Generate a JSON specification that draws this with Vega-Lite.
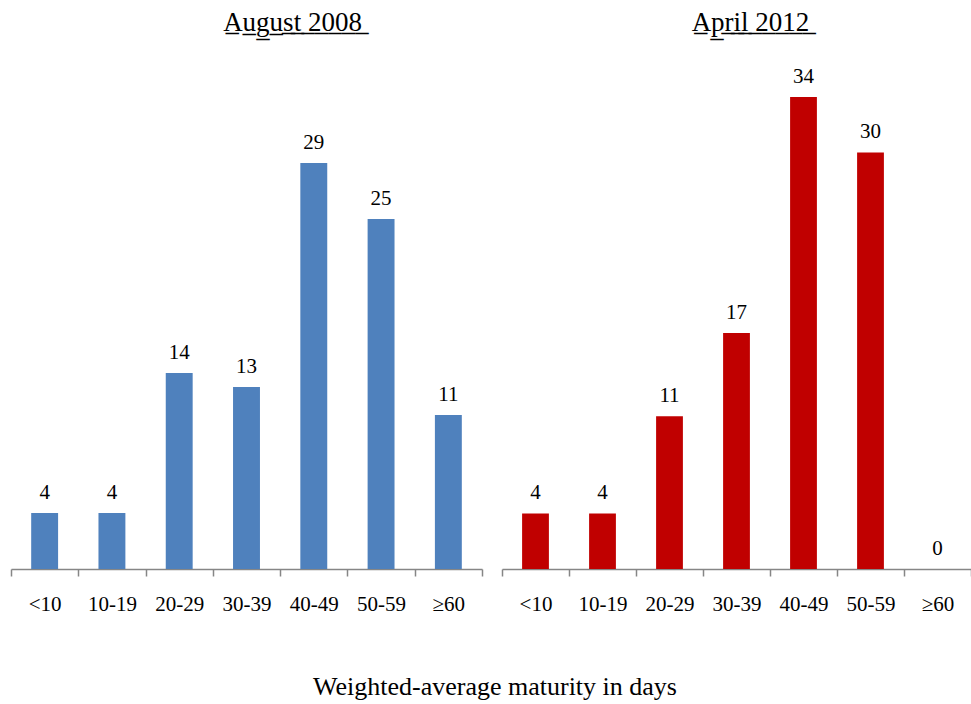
{
  "$schema": "https://vega.github.io/schema/vega-lite/v6.json",
  "background": "white",
  "padding": {"left": 10, "top": 9, "right": 0, "bottom": 0},
  "config": {
    "view": {"stroke": null},
    "font": "Liberation Serif",
    "axis": {"labelFont": "Liberation Serif", "titleFont": "Liberation Serif"},
    "title": {"font": "Liberation Serif", "subtitleFont": "Liberation Serif"},
    "text": {"font": "Liberation Serif"},
    "concat": {"spacing": 18}
  },
  "title": {
    "text": "Weighted-average maturity in days",
    "orient": "bottom",
    "anchor": "middle",
    "font": "Liberation Serif",
    "fontSize": 26,
    "fontWeight": "normal",
    "color": "black",
    "offset": 60,
    "dx": 4
  },
  "datasets": {
    "aug2008": [
      {"bucket": "<10", "share": 4},
      {"bucket": "10-19", "share": 4},
      {"bucket": "20-29", "share": 14},
      {"bucket": "30-39", "share": 13},
      {"bucket": "40-49", "share": 29},
      {"bucket": "50-59", "share": 25},
      {"bucket": "≥60", "share": 11}
    ],
    "apr2012": [
      {"bucket": "<10", "share": 4},
      {"bucket": "10-19", "share": 4},
      {"bucket": "20-29", "share": 11},
      {"bucket": "30-39", "share": 17},
      {"bucket": "40-49", "share": 34},
      {"bucket": "50-59", "share": 30},
      {"bucket": "≥60", "share": 0}
    ]
  },
  "hconcat": [
    {
      "width": 471,
      "height": 504,
      "title": {"text": "A\u0332u\u0332g\u0332u\u0332s\u0332t\u0332 \u03322\u03320\u03320\u03328\u0332", "font": "Liberation Serif", "fontSize": 27, "fontWeight": "normal", "color": "black", "offset": 28, "dx": 46},
      "data": {"name": "aug2008"},
      "encoding": {
        "x": {
          "field": "bucket", "type": "nominal", "sort": null,
          "scale": {"paddingInner": 0, "paddingOuter": 0},
          "axis": {"title": null, "labelAngle": 0, "tickBand": "extent", "domainColor": "#868686", "tickColor": "#868686", "domainWidth": 1.5, "tickWidth": 1.5, "tickSize": 7, "labelFont": "Liberation Serif", "labelFontSize": 21, "labelColor": "black", "labelPadding": 17}
        },
        "y": {"field": "share", "type": "quantitative", "scale": {"domain": [0, 36]}, "axis": null}
      },
      "layer": [
        {"mark": {"type": "bar", "color": "#4F81BD", "width": {"band": 0.4}}},
        {"mark": {"type": "text", "font": "Liberation Serif", "baseline": "bottom", "dy": -10, "fontSize": 21, "color": "black"}, "encoding": {"text": {"field": "share", "type": "quantitative"}}}
      ]
    },
    {
      "width": 469,
      "height": 504,
      "title": {"text": "A\u0332p\u0332r\u0332i\u0332l\u0332 \u03322\u03320\u03321\u03322\u0332", "font": "Liberation Serif", "fontSize": 27, "fontWeight": "normal", "color": "black", "offset": 28, "dx": 14},
      "data": {"name": "apr2012"},
      "encoding": {
        "x": {
          "field": "bucket", "type": "nominal", "sort": null,
          "scale": {"paddingInner": 0, "paddingOuter": 0},
          "axis": {"title": null, "labelAngle": 0, "tickBand": "extent", "domainColor": "#868686", "tickColor": "#868686", "domainWidth": 1.5, "tickWidth": 1.5, "tickSize": 7, "labelFont": "Liberation Serif", "labelFontSize": 21, "labelColor": "black", "labelPadding": 17}
        },
        "y": {"field": "share", "type": "quantitative", "scale": {"domain": [0, 36.3]}, "axis": null}
      },
      "layer": [
        {"mark": {"type": "bar", "color": "#C00000", "width": {"band": 0.4}}},
        {"mark": {"type": "text", "font": "Liberation Serif", "baseline": "bottom", "dy": -10, "fontSize": 21, "color": "black"}, "encoding": {"text": {"field": "share", "type": "quantitative"}}}
      ]
    }
  ]
}
